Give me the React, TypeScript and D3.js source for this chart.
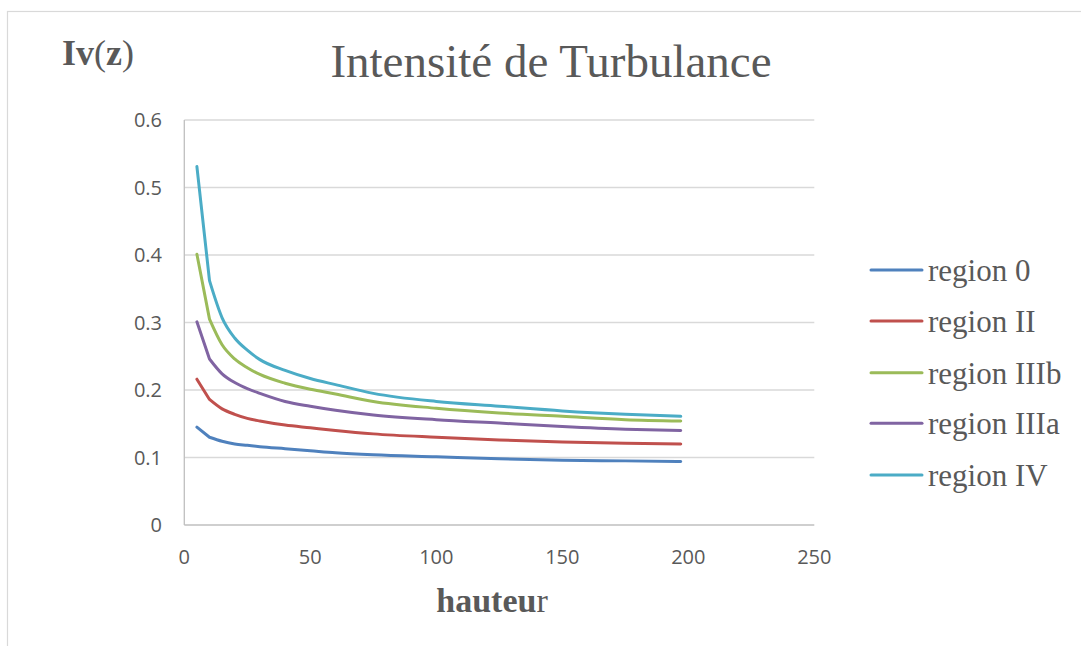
import React from "react";
import * as d3 from "d3";

const heights = [5, 10, 15, 20, 25, 30, 40, 50, 60, 75, 100, 125, 150, 175, 197];
const seriesNames = ["region 0", "region II", "region IIIb", "region IIIa", "region IV"];
const region0 = [0.145, 0.130, 0.124, 0.120, 0.118, 0.116, 0.113, 0.110, 0.107, 0.104, 0.101, 0.098, 0.096, 0.095, 0.094];
const regionII = [0.216, 0.186, 0.172, 0.164, 0.158, 0.154, 0.148, 0.144, 0.140, 0.135, 0.130, 0.126, 0.123, 0.121, 0.120];
const regionIIIb = [0.401, 0.305, 0.267, 0.246, 0.233, 0.223, 0.210, 0.201, 0.194, 0.183, 0.173, 0.166, 0.161, 0.156, 0.154];
const regionIIIa = [0.301, 0.246, 0.224, 0.211, 0.202, 0.195, 0.183, 0.176, 0.170, 0.163, 0.156, 0.151, 0.146, 0.142, 0.140];
const regionIV = [0.531, 0.362, 0.307, 0.277, 0.259, 0.245, 0.229, 0.217, 0.208, 0.195, 0.183, 0.176, 0.169, 0.164, 0.161];
const colors = ["#4F81BD", "#C0504D", "#9BBB59", "#8064A2", "#4BACC6"];
const xTicks = [0, 50, 100, 150, 200, 250];
const yTicks = [0, 0.1, 0.2, 0.3, 0.4, 0.5, 0.6];

const allSeries = [region0, regionII, regionIIIb, regionIIIa, regionIV];

export default function App() {
  const x = d3.scaleLinear().domain([0, 250]).range([184.3, 814.3]);
  const y = d3.scaleLinear().domain([0, 0.6]).range([525, 120]);
  const smooth = d3
    .line<[number, number]>()
    .x((d) => x(d[0]))
    .y((d) => y(d[1]))
    .curve(d3.curveMonotoneX);
  const textColor = "#595959";
  const serif = "'Liberation Serif', 'Times New Roman', serif";
  const sans = "'Open Sans', 'Noto Sans', sans-serif";
  const legendY = [270, 321, 372.7, 423.3, 475];

  const pathFor = (vals: number[]) => {
    const pts = heights.map((h, j) => [h, vals[j]] as [number, number]);
    const rest = smooth(pts.slice(1)) || "";
    return `M${x(pts[0][0])},${y(pts[0][1])}L` + rest.slice(1);
  };

  return (
    <svg
      width={1081}
      height={646}
      style={{ position: "absolute", left: 0, top: 0, background: "#fff" }}
    >
      <rect x={0} y={0} width={1081} height={646} fill="#fff" />
      <rect x={7.5} y={11.5} width={1100} height={700} fill="none" stroke="#d9d9d9" strokeWidth={1.2} />

      {yTicks.map((t) =>
        t === 0 ? null : (
          <line key={"g" + t} x1={x(0)} x2={x(250)} y1={y(t)} y2={y(t)} stroke="#d9d9d9" strokeWidth={1.3} />
        )
      )}
      <line x1={x(0)} x2={x(0)} y1={y(0)} y2={y(0.6)} stroke="#bfbfbf" strokeWidth={1.3} />
      <line x1={x(0)} x2={x(250)} y1={y(0)} y2={y(0)} stroke="#bfbfbf" strokeWidth={1.3} />

      {yTicks.map((t) => (
        <text
          key={"yl" + t}
          x={162}
          y={y(t)}
          dy="0.36em"
          textAnchor="end"
          fontFamily={sans}
          fontSize={20}
          fill={textColor}
        >
          {t === 0 ? "0" : t.toFixed(1)}
        </text>
      ))}
      {xTicks.map((t) => (
        <text
          key={"xl" + t}
          x={x(t)}
          y={557}
          dy="0.36em"
          textAnchor="middle"
          fontFamily={sans}
          fontSize={20}
          fill={textColor}
        >
          {t}
        </text>
      ))}

      {allSeries.map((vals, i) => (
        <path
          key={"s" + i}
          d={pathFor(vals)}
          fill="none"
          stroke={colors[i]}
          strokeWidth={3}
          strokeLinecap="round"
          strokeLinejoin="round"
        />
      ))}

      <text x={551} y={77} textAnchor="middle" fontFamily={serif} fontSize={47} fill={textColor}>
        Intensité de Turbulance
      </text>
      <text x={62} y={65} fontFamily={serif} fontSize={36} fill={textColor}>
        <tspan fontWeight="bold">Iv</tspan>
        <tspan>(</tspan>
        <tspan fontWeight="bold">z</tspan>
        <tspan>)</tspan>
      </text>
      <text x={492} y={612} textAnchor="middle" fontFamily={serif} fontSize={34} fill={textColor}>
        <tspan fontWeight="bold">hauteu</tspan>
        <tspan>r</tspan>
      </text>

      {seriesNames.map((n, i) => (
        <g key={"lg" + i}>
          <line
            x1={871}
            x2={922}
            y1={legendY[i]}
            y2={legendY[i]}
            stroke={colors[i]}
            strokeWidth={3}
            strokeLinecap="round"
          />
          <text x={928} y={legendY[i] + 11} fontFamily={serif} fontSize={31} fill={textColor}>
            {n}
          </text>
        </g>
      ))}
    </svg>
  );
}
